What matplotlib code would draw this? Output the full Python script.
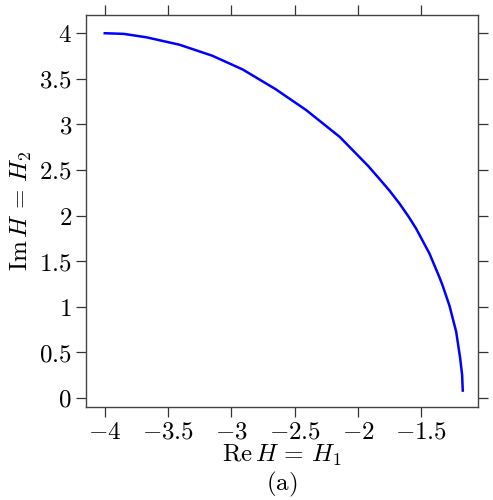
"""
Curve of H in the complex plane: Re H = H1 vs Im H = H2.
"""

import matplotlib
matplotlib.use('Agg')
import matplotlib.pyplot as plt

# values
re_h = [-4.00, -3.85, -3.67, -3.41, -3.15, -2.91, -2.65, -2.41, -2.145,
        -1.92, -1.83, -1.75, -1.672, -1.60, -1.54, -1.435, -1.356, -1.33,
        -1.277, -1.224, -1.193, -1.177, -1.172]
im_h = [4.000, 3.993, 3.955, 3.874, 3.753, 3.602, 3.386, 3.158, 2.864,
        2.545, 2.402, 2.272, 2.132, 1.988, 1.856, 1.583, 1.322, 1.228,
        1.011, 0.725, 0.44, 0.25, 0.08]

x_ticks = [-4, -3.5, -3, -2.5, -2, -1.5]
y_ticks = [0, 0.5, 1, 1.5, 2, 2.5, 3, 3.5, 4]


def main():
    plt.rcParams['mathtext.fontset'] = 'cm'
    plt.rcParams['font.family'] = 'serif'
    plt.rcParams['font.serif'] = ['DejaVu Serif']

    fig = plt.figure(figsize=(4.93, 5.0), dpi=100)
    ax = fig.add_axes([0.174, 0.186, 0.796, 0.784])

    ax.plot(re_h, im_h, color='#0000ff', linewidth=1.8,
            solid_joinstyle='round')

    ax.set_xlim(-4.15, -1.05)
    ax.set_ylim(-0.1, 4.2)

    ax.set_xticks(x_ticks)
    ax.set_xticklabels(['$%g$' % v for v in x_ticks])
    ax.set_yticks(y_ticks)
    ax.set_yticklabels(['$%g$' % v for v in y_ticks])

    ax.tick_params(direction='out', length=7, width=0.9, color='#333333',
                   labelsize=18, top=True, right=True, pad=3)
    for s in ax.spines.values():
        s.set_color('#444444')
        s.set_linewidth(1.0)

    ax.set_xlabel(r'$\mathrm{Re}\,H\, =\, H_1$', fontsize=18, labelpad=-1)
    ax.set_ylabel(r'$\mathrm{Im}\,H\, =\, H_2$', fontsize=18, labelpad=4)

    fig.text(0.572, 0.032, r'$\mathrm{(a)}$', fontsize=18, ha='center', va='center')

    fig.savefig('out.png', dpi=100)


if __name__ == '__main__':
    main()
